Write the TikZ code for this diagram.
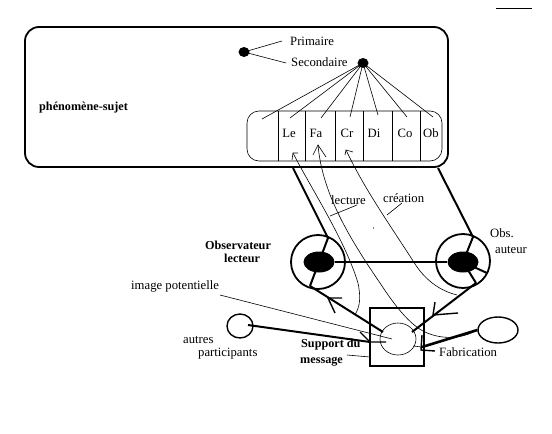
\documentclass[tikz,border=0pt]{standalone}
\usepackage{fontspec}
\setmainfont{Liberation Serif}
\usetikzlibrary{shapes.geometric}
\tikzset{
  label/.style={inner sep=0pt, anchor=west, font=\fontsize{12.7}{14}\selectfont},
  boldlabel/.style={label, font=\fontsize{12.2}{14}\selectfont\bfseries},
  cell/.style={inner sep=0pt, font=\fontsize{12.7}{14}\selectfont},
  bullet/.style={ellipse, fill=black, inner sep=0pt, minimum width=11pt, minimum height=10pt},
  eye/.style={circle, draw=black, line width=1.8pt, inner sep=0pt, minimum size=54pt},
  pupil/.style={ellipse, fill=black, inner sep=0pt, minimum width=31pt, minimum height=21pt},
  blob/.style={ellipse, draw=black, inner sep=0pt},
  thinline/.style={line width=0.6pt},
  heavy/.style={line width=2pt},
  medline/.style={line width=1.4pt}
}
\begin{document}
\begin{tikzpicture}[x=1pt,y=-1pt]
  \useasboundingbox (0,0) rectangle (552,434);
  % top
  \coordinate (t1) at (496,8);
  \coordinate (t2) at (532,8);
  \draw[thinline] (t1) -- (t2);
  % box
  \node[draw=black, line width=1.8pt, rounded corners=14pt, minimum width=423pt, minimum height=140pt, inner sep=0pt] (sujet) at (236.5,97) {};
  \node[boldlabel] (phen) at (39,108) {phénomène-sujet};
  \node[bullet] (d1) at (244,52) {};
  \node[bullet] (d2) at (363,63) {};
  \node[label] (prim) at (290,41) {Primaire};
  \node[label] (sec) at (291,62) {Secondaire};
  \coordinate (p1) at (282,41);
  \coordinate (p2) at (286,63);
  \draw[thinline] (d1.center) -- (p1);
  \draw[thinline] (d1.center) -- (p2);
  % bar
  \node[draw=black, thinline, rounded corners=12pt, minimum width=195pt, minimum height=50pt, inner sep=0pt] (bar) at (344.5,136) {};
  \foreach \x in {278,305,335,363,392,420}
    \draw[thinline] (\x,111) -- (\x,161);
  \node[cell] (le) at (289,133) {Le};
  \node[cell] (fa) at (316,133) {Fa};
  \node[cell] (cr) at (347,133) {Cr};
  \node[cell] (di) at (374,133) {Di};
  \node[cell] (co) at (405,133) {Co};
  \node[cell] (ob) at (431,133) {Ob};
  \foreach \x/\y in {262/119,290/118,321/118,350/117,378/115,407/117,433/117}
    \draw[thinline] (d2.center) -- (\x,\y);
  % eyes
  \node[eye] (eyeL) at (318,262) {};
  \node[eye] (eyeR) at (463,261) {};
  \node[pupil] (pupL) at (319,262) {};
  \node[pupil] (pupR) at (463,262) {};
  \node[boldlabel] (obs) at (205,245) {Observateur};
  \node[boldlabel] (lect) at (224,258) {lecteur};
  \node[label] (obsA) at (490,233) {Obs.};
  \node[label] (aut) at (495,250) {auteur};
  \coordinate (a1) at (293,168);
  \coordinate (a2) at (328,238);
  \coordinate (b1) at (438,168);
  \coordinate (b2) at (473,237);
  \draw[heavy] (a1) -- (a2) -- (pupL.center);
  \draw[heavy] (b1) -- (b2) -- (pupR.center);
  \draw[heavy] (pupL) -- (pupR);
  \coordinate (c1) at (310,286);
  \coordinate (c2) at (476,283);
  \coordinate (c3) at (487,273);
  \draw[heavy] (pupL.center) -- (c1);
  \draw[heavy] (pupR.center) -- (c2);
  \draw[heavy] (pupR.center) -- (c3);
  % support
  \node[draw=black, line width=1.8pt, minimum width=54pt, minimum height=58pt, inner sep=0pt] (support) at (397,337) {};
  \node[blob, thinline, minimum width=36pt, minimum height=32pt] (img) at (398,339) {};
  \node[blob, medline, minimum width=26pt, minimum height=24pt] (autres) at (240,326) {};
  \node[blob, medline, minimum width=40pt, minimum height=26pt] (fab) at (498,330) {};
  \coordinate (e0) at (248,325);
  \coordinate (e1) at (383,332);
  \coordinate (e2) at (412,332);
  \coordinate (e3) at (370,342);
  \coordinate (e4) at (422,347);
  \draw[heavy] (c1) -- (e1);
  \draw[heavy] (c2) -- (e2);
  \draw[heavy] (e0) -- (e3);
  \draw[line width=2.6pt] (fab.west) -- (e4);
  \draw[thinline] (e4) -- (413,346);
  % barbs
  \coordinate (h1) at (328,298);
  \draw[medline] (342,298) -- (h1) -- (335,313);
  \coordinate (h2) at (433,315);
  \draw[medline] (435,302) -- (h2) -- (458,313);
  \draw[medline] (360,332) -- (e3) -- (386,342);
  \draw[medline] (422,335) -- (421,350) -- (435,351);
  % curves
  \coordinate (leTip) at (293,153);
  \coordinate (faTip) at (318,145);
  \coordinate (crTip) at (346,150);
  \coordinate (leEnd) at (355,315);
  \coordinate (crEnd) at (457,295);
  \draw[thinline] (292,160) -- (leTip) -- (298,153);
  \draw[thinline] (313,155) -- (faTip) -- (326,157);
  \draw[thinline] (345,155) -- (crTip) -- (353,152);
  \draw[thinline] (leTip) .. controls (312,190) and (345,240) .. (358,283) .. controls (361,298) and (360,306) .. (leEnd);
  \draw[thinline] (faTip) .. controls (322,190) and (345,232) .. (380,283) .. controls (395,306) and (410,325) .. (425,332) .. controls (440,339) and (460,340) .. (fab.west);
  \draw[thinline] (crTip) .. controls (365,190) and (390,225) .. (417,267) .. controls (430,285) and (445,292) .. (crEnd);
  % labels
  \node[label] (lec) at (331,200) {lecture};
  \node[label] (cre) at (383,198) {création};
  \node[label] (imgp) at (131,286) {image potentielle};
  \node[label] (aut1) at (183,340) {autres};
  \node[label] (part) at (198,354) {participants};
  \node[boldlabel] (sup1) at (301,345) {Support du};
  \node[boldlabel] (sup2) at (300,362) {message};
  \node[label] (fabt) at (439,352) {Fabrication};
  \coordinate (l1) at (357,205);
  \coordinate (l2) at (330,216);
  \coordinate (l3) at (402,203);
  \coordinate (l4) at (387,215);
  \coordinate (l5) at (220,295);
  \coordinate (l6) at (392,339);
  \coordinate (l7) at (347,355);
  \coordinate (l8) at (370,357);
  \draw[thinline] (l1) -- (l2);
  \draw[thinline] (l3) -- (l4);
  \draw[thinline] (l5) -- (l6);
  \draw[thinline] (l7) -- (l8);
  \fill (373.5,228) circle (0.6pt);
\end{tikzpicture}
\end{document}
